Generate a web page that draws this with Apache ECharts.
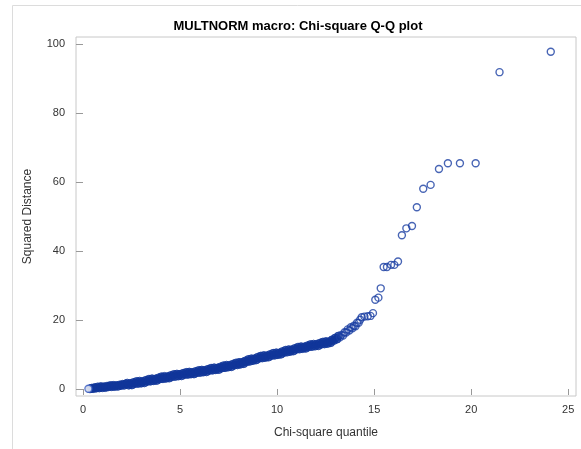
<!DOCTYPE html>
<html>
<head>
<meta charset="utf-8">
<script src="https://cdn.jsdelivr.net/npm/echarts@6/dist/echarts.min.js"></script>
<style>html,body{margin:0;padding:0;background:#fff}#c{width:581px;height:449px}</style>
</head>
<body>
<div id="c"></div>
<script>
var titleText = 'MULTNORM macro: Chi-square Q-Q plot';
var xName = 'Chi-square quantile';
var yName = 'Squared Distance';
var xTicks = [0, 5, 10, 15, 20, 25];
var yTicks = [0, 20, 40, 60, 80, 100];

// dense part of the cloud
var quantiles = [
0.28,0.36,0.44,0.52,0.60,0.68,0.76,0.84,0.92,1.00,
1.08,1.16,1.24,1.32,1.40,1.48,1.56,1.64,1.72,1.80,
1.88,1.96,2.04,2.12,2.20,2.28,2.36,2.44,2.52,2.60,
2.68,2.76,2.84,2.92,3.00,3.08,3.16,3.24,3.32,3.40,
3.48,3.56,3.64,3.72,3.80,3.88,3.96,4.04,4.12,4.20,
4.28,4.36,4.44,4.52,4.60,4.68,4.76,4.84,4.92,5.00,
5.08,5.16,5.24,5.32,5.40,5.48,5.56,5.64,5.72,5.80,
5.88,5.96,6.04,6.12,6.20,6.28,6.36,6.44,6.52,6.60,
6.68,6.76,6.84,6.92,7.00,7.08,7.16,7.24,7.32,7.40,
7.48,7.56,7.64,7.72,7.80,7.88,7.96,8.04,8.12,8.20,
8.28,8.36,8.44,8.52,8.60,8.68,8.76,8.84,8.92,9.00,
9.08,9.16,9.24,9.32,9.40,9.48,9.56,9.64,9.72,9.80,
9.88,9.96,10.04,10.12,10.20,10.28,10.36,10.44,10.52,10.60,
10.68,10.76,10.84,10.92,11.00,11.08,11.16,11.24,11.32,11.40,
11.48,11.56,11.64,11.72,11.80,11.88,11.96,12.04,12.12,12.20,
12.28,12.36,12.44,12.52,12.60,12.68,12.76,12.84,12.92,13.00,
13.08,13.16,13.24,13.32,13.40,13.48,13.56,13.64,13.72,13.80,
13.88,13.96,14.04,14.12,14.20,14.28
];
var distances = [
0.06,0.05,0.23,0.10,0.42,0.25,0.61,0.30,0.70,0.38,
0.65,0.42,0.82,0.65,0.99,0.67,1.06,0.73,1.01,0.77,
1.17,1.00,1.36,1.07,1.48,1.70,1.12,1.60,1.17,1.89,
1.56,2.18,1.61,2.28,1.70,2.19,1.78,2.51,2.20,2.84,
2.28,2.97,2.40,2.89,2.48,3.22,2.91,3.54,2.98,3.66,
3.09,3.58,3.16,3.90,3.58,4.21,3.65,4.33,3.77,4.25,
3.82,4.54,4.20,4.82,4.24,4.91,4.33,4.79,4.36,5.08,
4.75,5.37,4.79,5.48,4.91,5.39,4.98,5.71,5.40,6.03,
5.46,6.15,5.58,6.07,5.65,6.40,6.10,6.75,6.20,6.90,
6.35,6.85,6.45,7.20,6.90,7.55,7.00,7.72,7.20,7.73,
7.36,8.14,7.88,8.56,8.04,8.77,8.25,8.79,8.42,9.20,
8.90,9.55,9.00,9.70,9.15,9.65,9.25,10.00,9.70,10.35,
9.80,10.50,9.96,10.47,10.09,10.86,10.57,11.24,10.70,11.42,
10.89,11.40,11.02,11.78,11.50,12.14,11.58,12.28,11.72,12.21,
11.80,12.54,12.24,12.88,12.32,13.01,12.45,12.95,12.54,13.28,
12.98,13.62,13.06,13.76,13.20,13.74,13.43,14.27,14.06,14.80,
14.45,15.35,15.01,15.71,15.52,16.47,16.40,17.30,16.99,17.93,
17.62,18.36,18.19,19.21,19.18,20.10
];
// separated upper-tail points
var tailQuantiles = [14.36,14.50,14.67,14.81,14.94,15.06,15.22,15.34,15.49,15.66,15.87,16.04,16.23,16.43,16.66,16.95,17.20,17.53,17.91,18.34,18.80,19.42,20.23,21.46,24.10];
var tailDistances = [20.8,21.0,21.1,21.2,22.0,25.9,26.5,29.2,35.4,35.4,36.0,36.0,37.0,44.6,46.6,47.3,52.7,58.1,59.2,63.8,65.5,65.5,65.5,91.9,97.8];

var allQ = quantiles.concat(tailQuantiles);
var allD = distances.concat(tailDistances);
var firstPt = [], solidPts = [], openPts = [];
allQ.forEach(function (q, i) {
  var p = [q, allD[i]];
  if (i === 0) firstPt.push(p);
  else if (q < 13.2) solidPts.push(p);
  else openPts.push(p);
});

var blue = '#10369a';
var chart = echarts.init(document.getElementById('c'), null, {renderer: 'canvas'});
var fam = 'Liberation Sans, Arial, sans-serif';
var axisFont = {fontFamily: fam, fontSize: 11, color: '#333'};
chart.setOption({
  animation: false,
  backgroundColor: '#fff',
  graphic: [{
    type: 'rect', shape: {x: 12.5, y: 5.5, width: 600, height: 500},
    style: {fill: 'none', stroke: '#dcdcdc', lineWidth: 1}, silent: true, z: -1
  }],
  title: {
    text: titleText, left: 293, top: 15, textAlign: 'center',
    textStyle: {fontFamily: fam, fontSize: 13, fontWeight: 'bold', color: '#000'}
  },
  grid: {left: 76, right: 5, top: 37, bottom: 53, show: true, borderColor: '#c8c8c8', borderWidth: 1, backgroundColor: '#fff'},
  xAxis: {
    type: 'value', min: -0.36, max: 25.4,
    name: xName, nameLocation: 'middle', nameGap: 31,
    nameTextStyle: {fontFamily: fam, fontSize: 12, color: '#333'},
    axisLine: {show: false},
    axisTick: {show: true, customValues: xTicks, length: 6, lineStyle: {color: '#999'}},
    axisLabel: Object.assign({customValues: xTicks, margin: 8}, axisFont),
    splitLine: {show: false}
  },
  yAxis: {
    type: 'value', min: -2.03, max: 102.1,
    name: yName, nameLocation: 'middle', nameGap: 42,
    nameTextStyle: {fontFamily: fam, fontSize: 12, color: '#333'},
    axisLine: {show: false},
    axisTick: {show: true, customValues: yTicks, length: 7, lineStyle: {color: '#999'}},
    axisLabel: Object.assign({customValues: yTicks, margin: 11}, axisFont),
    splitLine: {show: false}
  },
  series: [{
    type: 'scatter', data: solidPts, symbol: 'circle', symbolSize: 8, z: 2,
    itemStyle: {color: blue, borderColor: blue, borderWidth: 1}
  }, {
    type: 'scatter', data: openPts, symbol: 'circle', symbolSize: 7, z: 3,
    itemStyle: {color: 'rgba(0,0,0,0)', borderColor: '#1a3ea2', borderWidth: 1.4}
  }, {
    type: 'scatter', data: firstPt, symbol: 'circle', symbolSize: 7, z: 4,
    itemStyle: {color: '#fff', borderColor: '#3a5cc0', borderWidth: 1.4}
  }]
});
</script>
</body>
</html>
